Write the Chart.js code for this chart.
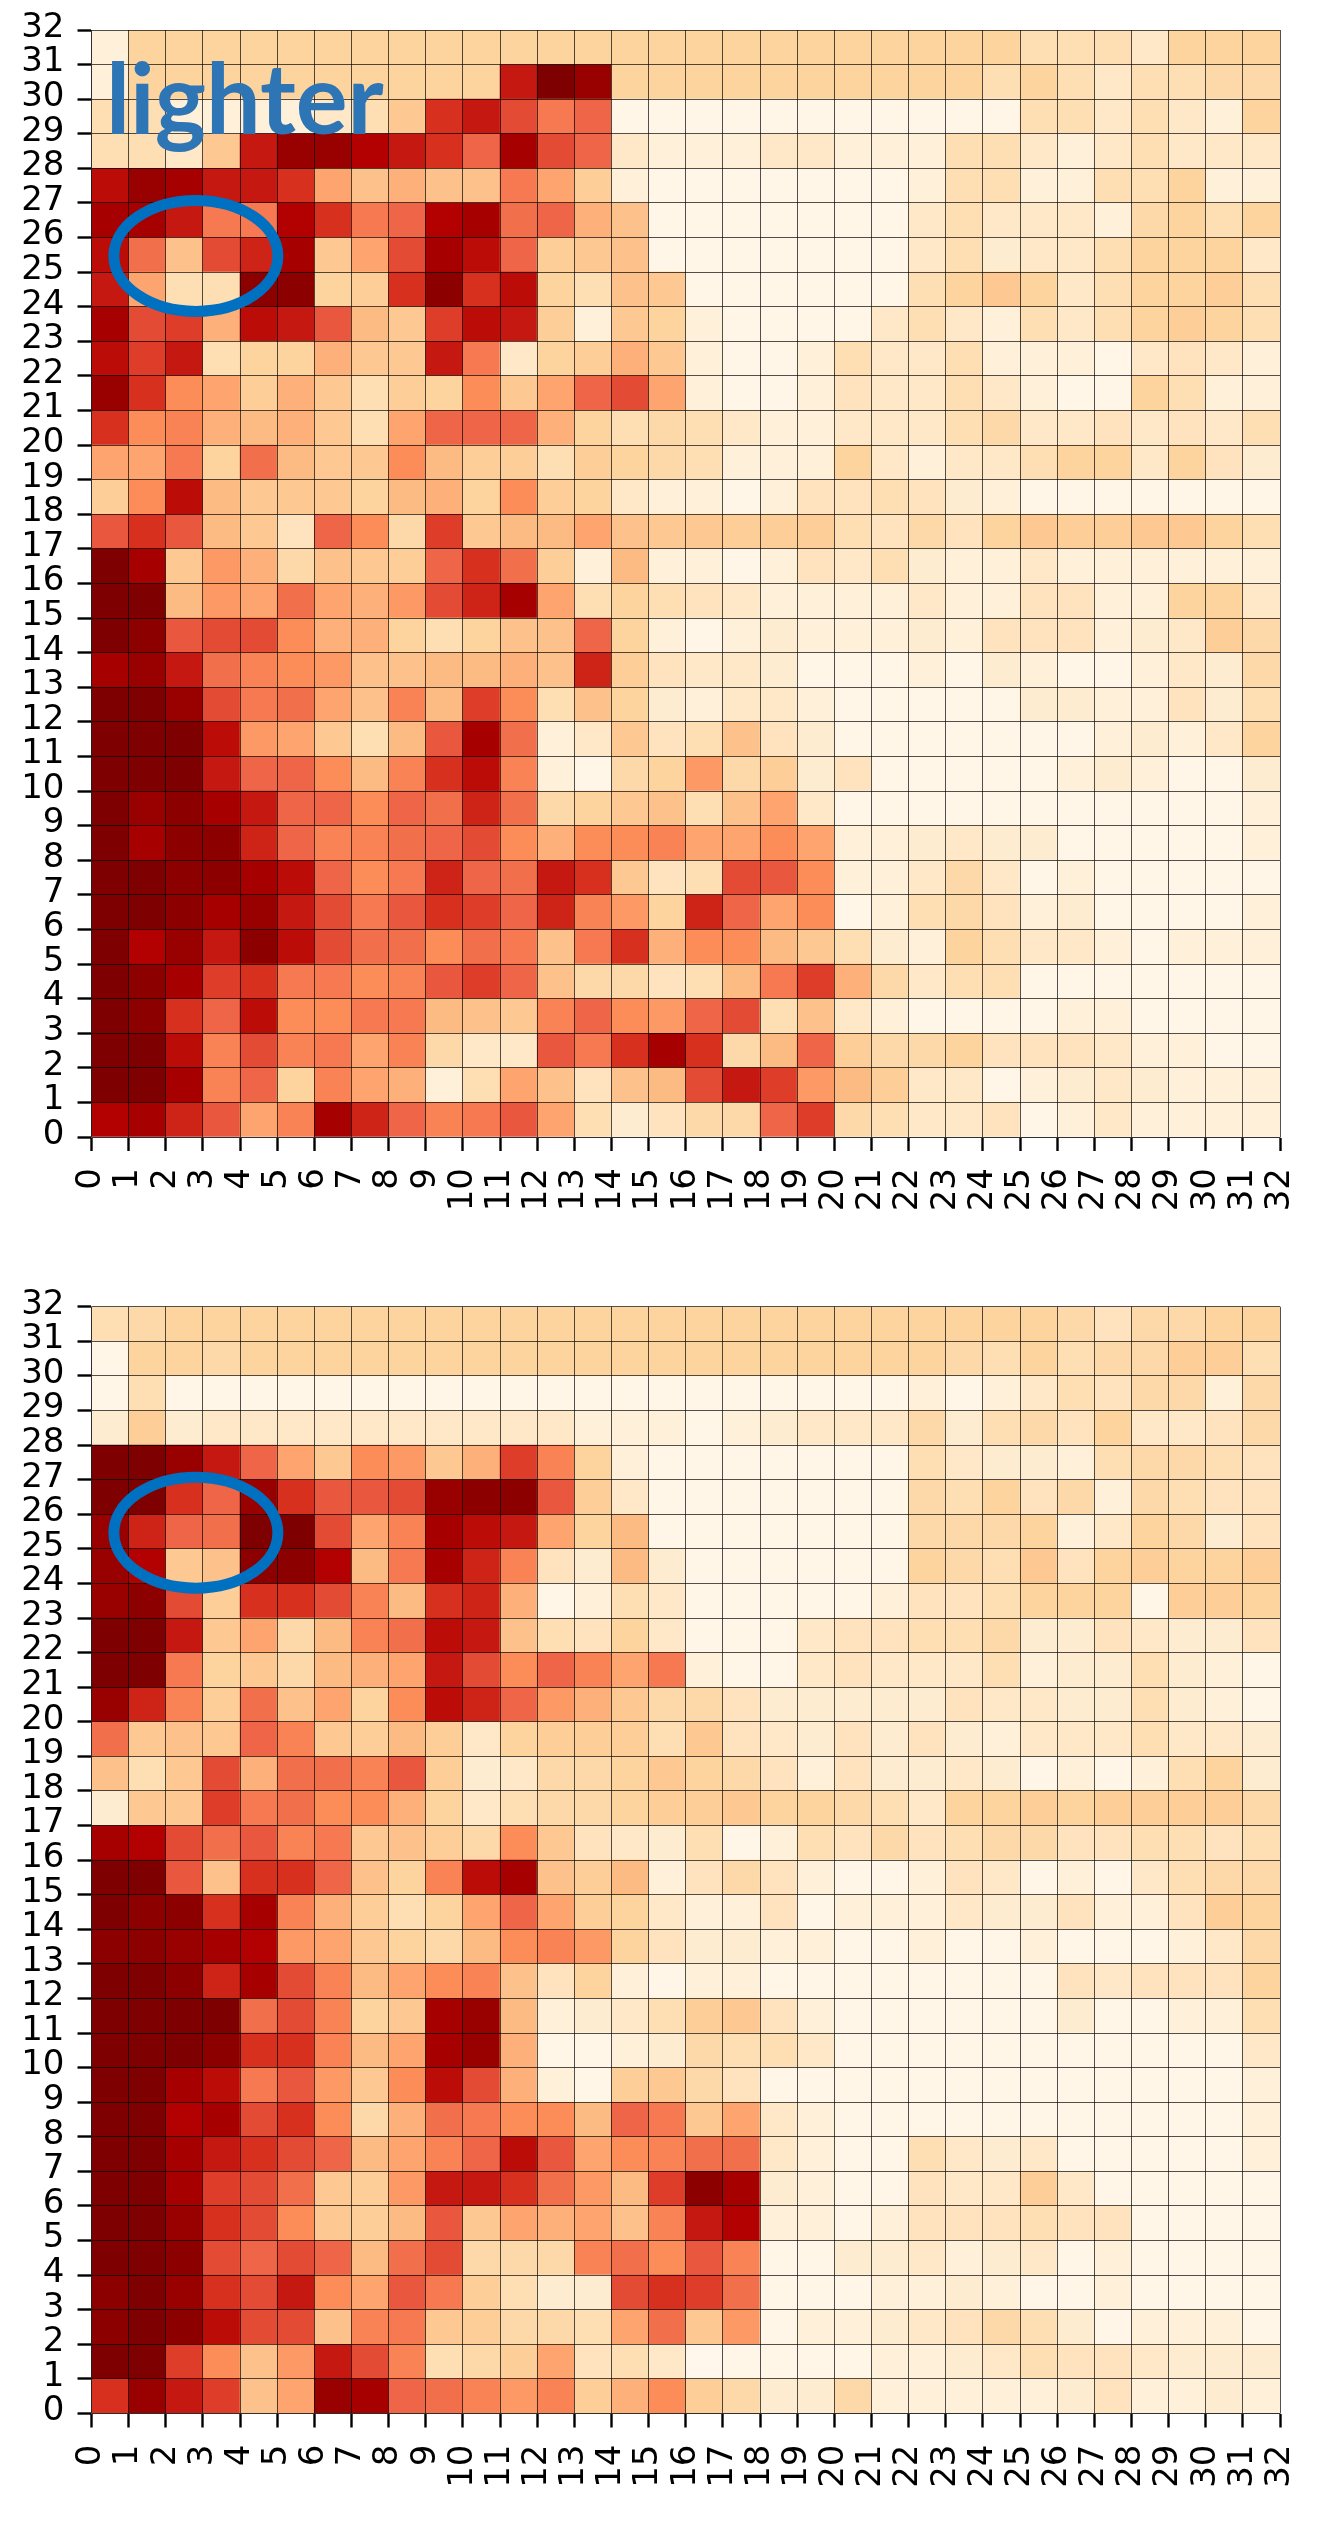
<!DOCTYPE html>
<html>
<head>
<meta charset="utf-8">
<title>heatmaps</title>
<script src="https://cdn.jsdelivr.net/npm/chart.js@4/dist/chart.umd.js"></script>
<style>
  html, body { margin: 0; padding: 0; background: #fff; }
  canvas { position: absolute; left: 0; }
  #upper-chart { top: 0; }
  #lower-chart { top: 1270px; }
</style>
</head>
<body>
<canvas id="upper-chart" width="1318" height="1260"></canvas>
<canvas id="lower-chart" width="1318" height="1252"></canvas>
<script>
// tick labels, 0..32 on both axes
const TICKS = Array.from({ length: 33 }, (_, i) => i);

// OrRd stops, cell values below are 0..16 along this ramp
const ORRD = ["#fff7ec", "#fee8c8", "#fdd49e", "#fdbb84", "#fc8d59", "#ef6548", "#d7301f", "#b30000", "#7f0000"];

// rows listed top down (y=31 first), one value per x=0..31
const upperGrid = [
  [1,4,4,4,4,4,4,4,4,4,4,4,4,4,4,4, 4,4,4,4,4,4,4,4,4,3,3,3,2,4,4,4],
  [1,4,4,4,4,4,4,4,4,4,4,13,16,15,4,4, 4,4,4,4,4,4,4,4,3,4,3,2,3,3,3.5,3.5],
  [3,3,1,1,1,1,2,3,5,12,13,11,9,10,0.5,0.5, 0.5,0.5,0.5,0.5,0.5,0.5,0.5,0.5,0.5,3,3,2,3,2,1,4],
  [3,3,2,5,13,15,15,14,13,12,10,14.5,11,10,2,1, 1,1,2,2,1,1,1,3,3,2,1,2,3,2,2,2],
  [13.5,15,14.5,13,13,12,7,5.5,6.5,5.5,5.5,9,7,4.5,1,0.5, 0.5,0.5,0.5,0.5,0.5,0.5,1,3,3,1,1,3,3,4,1,1],
  [14.5,14.5,13,9,9,14,12,9,10,14,14.5,9.5,10,6.5,5.5,0.5, 0.5,0.5,0.5,0.5,0.5,0.5,2,3,2,2,2,1,3.5,4,3,4],
  [13.5,9.5,5.5,11,12.5,14.5,5,7,11,14.5,13.5,10,4.5,5,5.5,0.5, 0.5,0.5,0.5,0.5,0.5,0.5,2,3,1.5,2,2,3,4,4,4,2],
  [13,7,3,3,15.5,15.5,4,4.5,12,15.5,12,13.5,4,3,5.5,5, 0.5,0.5,0.5,0.5,0.5,0.5,3,4,5,4,2,3,4,4,4.5,3],
  [14.5,11,11.5,6.5,13.5,13,10.5,6,5,11.5,13.5,13,4.5,1,5,4, 1,0.5,0.5,0.5,0.5,2,3,2,1,3,2,3,4,4.5,4,3],
  [13.5,11.5,13,3,4,4,6.5,5,5,13,9,2,4,4.5,6.5,5, 1,0.5,0.5,1,3,2,2,3,1,1,1,0.5,2,2.5,2,1],
  [15,12,8,7,4.5,6.5,5,3,4.5,4,8,5,7,10,11,7, 1,0.5,0.5,1,2.5,2,2,3,2,1,0.5,0.5,4,3,1,1],
  [12,8,8.5,6.5,6,6.5,5,3,7,10,10,10,6.5,4,3,3.5, 3,2,1,1,2,2,2,3,3.5,2,2,2.5,2,2.5,2,3],
  [7,7,9,4,9.5,6,5,5,8,6,4.5,4.5,3,4.5,4,3.5, 3,1,1,1,4,2,1,2,2,3,4,4,2,4,2.5,1.5],
  [4.5,8,13.5,6,5,5,5,4,6,6.5,4,8,4.5,4,2,1, 1,0.5,1,2.5,2.5,3,2.5,1.5,1,0.5,0.5,0.5,0.5,0.5,0.5,0.5],
  [10.5,12,10.5,6,5,2.5,10,8,3.5,11.5,5,6,6,7,5.5,5, 5,4.5,4.5,4.5,3,2.5,3.5,2.5,4,5,4.5,4.5,5,5,4,3],
  [16,14.5,5,7.5,6.5,3.5,5.5,5,4.5,10,12,9.5,4.5,1,6,1, 1,0.5,1,2.5,2,3,1.5,1,1,2,1,1,1,1,1,1],
  [16,16,6,7.5,7,9.5,7,6.5,7.5,11,12.5,14.5,7,3,4,3, 2.5,2,1,1,1,1,2,1,1,2.5,2.5,1,1,4,4,2],
  [16,15.5,10.5,11,11,8,6.5,6.5,4,3,4,5.5,5.5,10,4,1, 0.5,1,1.5,1,1,1,1.5,1,2.5,2.5,2.5,1,1.5,2,4.5,3.5],
  [14.5,15,13,9.5,8.5,8,7.5,5.5,5.5,6,6,6.5,5.5,12.5,4.5,2.5, 2,2,1.5,0.5,0.5,0.5,1,0.5,1.5,1,0.5,0.5,1,2,1.5,3.5],
  [16,16,15,11,9,9.5,7,5.5,8.5,6,11.5,8,3,5.5,4,1.5, 1,2,2,1,0.5,0.5,0.5,0.5,0.5,1.5,1.5,1,1,2.5,1.5,3],
  [16,16,16,13.5,7.5,7,5,3,6,10.5,14.5,9.5,1,2,5,2.5, 3,5.5,2.5,1.5,0.5,0.5,0.5,0.5,0.5,0.5,0.5,1,1.5,1,2,4],
  [16,16,16,13,10,10,8,6,8.5,12,13.5,8.5,1,0.5,3.5,4, 7.5,3.5,4.5,1.5,2.5,0.5,0.5,0.5,0.5,0.5,1,1.5,1,0.5,0.5,1.5],
  [16,15,15.5,14.5,13,10,10,8,10,9.5,12.5,9.5,3.5,4,5,5.5, 3,5.5,7,2,0.5,0.5,0.5,0.5,0.5,0.5,0.5,0.5,0.5,0.5,0.5,1],
  [16,14.5,15.5,15.5,12.5,10,8.5,8.5,9.5,10,11,8,6.5,8,8,8.5, 7,7,8,7,1,1,1.5,2,1.5,1.5,0.5,0.5,0.5,0.5,0.5,1],
  [16,16,15.5,15.5,14.5,13.5,10,8,9,12.5,10,9.5,13,12,5,2.5, 3,11,10.5,8,1,1,2,3.5,2,0.5,1,0.5,0.5,0.5,0.5,0.5],
  [16,16,15.5,14.5,15,13,11,9,10.5,12,11.5,10,12.5,8.5,7.5,4, 12.5,10,7,8,0.5,1,3,3.5,2.5,1,1.5,0.5,0.5,0.5,0.5,1],
  [16,14,15,13,15.5,13.5,11,9.5,9.5,8,9.5,9,5.5,9,12,6.5, 8,8,6,5,3,1.5,1,4,3,2,2,1,0.5,1,1,1],
  [16,15.5,14.5,11.5,12,9,9,8,8.5,10.5,11.5,10,5.5,3.5,3.5,2.5, 3,6,9,11.5,6.5,3.5,2,3,3,0.5,0.5,0.5,0.5,0.5,0.5,0.5],
  [16,15.5,12,10,13.5,8,8,9,9,6,5.5,5,8.5,10,8,7.5, 10,11,3,5.5,2,1,0.5,0.5,0.5,0.5,1,1,0.5,0.5,0.5,0.5],
  [16,16,13.5,8.5,11,8.5,9,7,8.5,3.5,2,2,10.5,9,12,14.5, 12,3.5,6,10,4.5,3.5,3.5,4,2.5,2.5,2.5,2,1,1,0.5,0.5],
  [16,16,14.5,8.5,10,4,8.5,7,6.5,1,3,7,5.5,2.5,5.5,6, 11,13,11.5,7.5,6,4.5,2,2,0.5,1,1.5,2,1.5,1,1,1],
  [14,14.5,12.5,10.5,7,8.5,14.5,12.5,10,8.5,9,10.5,7,3,1.5,2.5, 3.5,3.5,10,11.5,3.5,3,2,2,2.5,0.5,1,2,1,1,1,1]
];

const lowerGrid = [
  [3,3.5,4,4,4,4,4,4,4,4,4,4,4,4,4,4, 4,4,4,4,4,4,4,4,4,4,3.5,2.5,3.5,3.5,4,4],
  [0.5,4,4,3.5,4,4,4,4,4,4,4,4,4,4,4,4, 4,4,4,4,4,4,4,3.5,3,4,3,3.5,3.5,4.5,4.5,3],
  [0.5,3,0.5,0.5,0.5,0.5,0.5,0.5,0.5,0.5,0.5,0.5,0.5,0.5,0.5,0.5, 0.5,0.5,0.5,0.5,0.5,0.5,1,0.5,1,2,3,2.5,3.5,3.5,1,3.5],
  [1.5,4.5,1.5,2,2,2,2,2,2,2,2,2,2,1,1,1, 0.5,1,1.5,2,2,2,3.5,1.5,3,3.5,2.5,4,2,2,2.5,3.5],
  [16,16,15,13,10,7,5,8,7.5,5,6.5,11.5,8.5,4,1,0.5, 0.5,0.5,0.5,0.5,0.5,0.5,3,2,1.5,1.5,1,3,3.5,3.5,3,2.5],
  [16,16,12,10,15,12,10.5,10.5,11,15,15.5,15.5,10.5,4.5,2,0.5, 0.5,0.5,0.5,0.5,0.5,0.5,3.5,3,4,2.5,3.5,1,3.5,3,2.5,2.5],
  [15,12.5,10,9.5,16,16,11,7,8.5,14.5,13.5,13,7,4,6,0.5, 0.5,0.5,0.5,0.5,0.5,0.5,3.5,3.5,3.5,4,1,2,4,3.5,1.5,2.5],
  [15,14,5,5.5,15.5,15.5,14,6,9,14.5,12.5,8.5,2.5,1.5,6,1.5, 0.5,0.5,0.5,0.5,0.5,0.5,4,3.5,3,5,2.5,4,4.5,4,4,4.5],
  [15,15.5,11,4.5,12,12,11,8.5,6,12,12.5,6.5,0.5,1,3,2, 0.5,0.5,0.5,0.5,0.5,1,2.5,2.5,3,4,4,4,0.5,4.5,4.5,4],
  [16,16,13,5,7,3.5,6,8.5,9.5,13.5,13,5.5,3,2.5,4,2, 0.5,0.5,0.5,2,2.5,2.5,3,3,3.5,1.5,1.5,2.5,2,1.5,1.5,2.5],
  [16,16,9,4,5,3.5,6,6.5,7,13,11,8,10,8.5,7,9, 1,0.5,0.5,2,2.5,2,2,2,3,1,1.5,1.5,3,1.5,1,0.5],
  [15,12.5,8.5,4.5,9.5,5.5,7,4,8,13.5,12.5,10,7.5,6.5,5,3.5, 3.5,2.5,1.5,1.5,1.5,1.5,1.5,2.5,2,2,1.5,1.5,3,1.5,1,0.5],
  [9.5,5,5.5,5,10,8.5,5,4.5,6,4.5,2,4,4.5,4.5,4.5,3, 5,2.5,2,1.5,2.5,1.5,2.5,1.5,1,2,2,2,3,2,2,1.5],
  [5.5,3,5,11,6.5,9.5,9.5,8.5,10.5,4.5,1.5,2,3.5,3.5,4,5, 4,3.5,2.5,1,2.5,1.5,1.5,2,1.5,0.5,1,0.5,1,3,4,1.5],
  [1.5,5,5,11.5,9,9.5,8,8,6.5,4,2,3,3.5,3.5,4,4.5, 4.5,5,4,4,3.5,3,2,4,4,4.5,4,4.5,4.5,4.5,4.5,3.5],
  [14.5,14,11,9.5,10.5,8.5,9,5,5.5,4.5,3.5,8,5,2.5,2,1.5, 3,0.5,1,3,2.5,3.5,2.5,3,3.5,3.5,2.5,2.5,3,3,2.5,3],
  [16,16,10.5,5.5,12,12,10,5.5,4,8.5,13.5,14.5,5.5,4.5,6,1, 2.5,3.5,2.5,1,0.5,0.5,1,2.5,2,0.5,1,0.5,2,3,3.5,3.5],
  [16,15.5,15.5,12,14.5,8.5,6.5,4.5,3,4,7,10,7,4.5,4,2, 1,1,2.5,0.5,1,1,1,2,1.5,1.5,2.5,1,1,2.5,4.5,4],
  [15.5,15.5,15,14.5,14,7.5,7,5,4,3.5,6,8,8.5,7.5,4,2.5, 1.5,1.5,1,1,0.5,0.5,1,0.5,0.5,1,0.5,0.5,0.5,1,2,3.5],
  [16,16,15.5,12.5,14.5,11,8.5,6,7,8,8.5,5.5,2.5,4,1,0.5, 1,1,0.5,0.5,0.5,0.5,0.5,0.5,0.5,0.5,2.5,2,2.5,2.5,2.5,4],
  [16,16,16,16,9.5,11,8.5,4,5,14.5,15,6,1,1.5,2,3, 4.5,5,2.5,1,0.5,0.5,0.5,0.5,0.5,0.5,1.5,0.5,0.5,1,1,3],
  [16,16,16,15.5,12,12,8.5,6,7,14.5,15,6.5,0.5,0.5,1,1.5, 3.5,3,3,2,0.5,0.5,0.5,0.5,0.5,0.5,0.5,0.5,0.5,0.5,0.5,2],
  [16,16,14.5,13.5,9,10.5,7.5,5,8,13.5,11,6.5,1,0.5,4.5,5, 3.5,2.5,0.5,0.5,0.5,0.5,0.5,0.5,0.5,0.5,0.5,0.5,0.5,0.5,0.5,1],
  [16,16,14,14.5,11,12,8,3.5,6.5,9.5,9,8,8,6,10,9, 5,7,2,1,0.5,0.5,0.5,0.5,0.5,0.5,0.5,0.5,0.5,0.5,0.5,1],
  [16,16,14.5,13,12,11,10,6,7,8.5,10,13.5,10.5,7,8,8.5, 9.5,9.5,2,1,0.5,0.5,3,2,1.5,2,0.5,0.5,0.5,0.5,0.5,1],
  [16,16,14.5,11.5,11,9.5,5,4.5,7.5,13,13,12,9.5,7.5,6,11.5, 15.5,14.5,1.5,1,0.5,0.5,2.5,2,2,4.5,2,0.5,0.5,0.5,0.5,0.5],
  [16,16,15,12,11,8,5,4.5,6,10.5,5,7,6.5,7,5.5,8.5, 13,14,1,1,0.5,1,2.5,2.5,2.5,3,2.5,2.5,0.5,0.5,0.5,0.5],
  [16,16,15.5,11,10,11,10,6,9.5,11,3.5,3.5,3.5,8.5,9.5,8, 10.5,8.5,0.5,0.5,1.5,1.5,2,1,1.5,2,0.5,1,0.5,0.5,0.5,0.5],
  [15.5,16,15,12,11,13,8,7,10.5,9,4.5,3,1.5,1.5,11,12, 11.5,9.5,0.5,0.5,0.5,1,1,1.5,1,0.5,0.5,1,0.5,0.5,0.5,0.5],
  [15.5,16,15.5,13.5,11,11,5.5,8.5,9,5,4.5,3.5,3.5,3,7,9.5, 5,7.5,0.5,1,1,1.5,2,2.5,3.5,3,1.5,0.5,1,1,1,0.5],
  [16,16,11.5,8,5.5,7.5,13,11,8.5,3,3.5,4.5,7,2.5,3,2, 0,0.5,0.5,0.5,0.5,1,1,1.5,2,3,2.5,2.5,2,1.5,1.5,1.5],
  [12,15,13,11.5,5.5,7,15,14.5,10,9.5,8.5,7.5,8.5,4.5,6.5,8, 4.5,3.5,1.5,1.5,3.5,1,1,1,1,1,1.5,2.5,1,1,1.5,1]
];

// blue ellipse centre in axis units, radii in pixels
const ELLIPSE_X = 2.81;
const ELLIPSE_Y = 25.47;

function hexToRgb(hex) {
  return [1, 3, 5].map((i) => parseInt(hex.slice(i, i + 2), 16));
}

function cellColor(level) {
  // the palest cells sit closer to the start of the ramp than 0.5 reads
  const value = level < 1 ? level * 0.4 : level;
  const pos = Math.min(value / 2, ORRD.length - 1.001);
  const i = Math.floor(pos);
  const a = hexToRgb(ORRD[i]);
  const b = hexToRgb(ORRD[i + 1]);
  const t = pos - i;
  const rgb = a.map((c, k) => Math.round(c + (b[k] - c) * t));
  return `rgb(${rgb.join(",")})`;
}

function gridPoints(grid) {
  const points = [];
  grid.forEach((row, r) => {
    const y = 31 - r;
    row.forEach((level, x) => {
      points.push({ x: x + 0.5, y: [y, y + 1], level: level });
    });
  });
  return points;
}

const annotations = {
  id: "annotations",
  afterDraw(chart, args, opts) {
    const { ctx, scales } = chart;
    ctx.save();
    ctx.strokeStyle = "#0070c0";
    ctx.lineWidth = 11;
    ctx.beginPath();
    ctx.ellipse(scales.x.getPixelForValue(ELLIPSE_X), scales.y.getPixelForValue(ELLIPSE_Y), 82, 55.5, 0, 0, Math.PI * 2);
    ctx.stroke();
    if (opts.label) {
      ctx.fillStyle = "#2e75b6";
      ctx.font = "bold 97px Lato";
      ctx.textBaseline = "alphabetic";
      ctx.fillText(opts.label, 106, 134);
    }
    ctx.restore();
  },
};

function tickAxis(extra) {
  return Object.assign(
    {
      type: "linear",
      min: 0,
      max: 32,
      offset: false,
      grid: {
        offset: false,
        color: "rgba(0,0,0,0.68)",
        lineWidth: 1,
        z: 1,
        tickColor: "#000",
        tickWidth: 2.4,
        tickLength: 14,
      },
      border: { color: "rgba(0,0,0,0.4)", width: 1, z: 1 },
    },
    extra
  );
}

function tickFont() {
  return { family: "'DejaVu Sans'", size: 34 };
}

function createChart(ctx, grid, top, xHeight, label) {
  const points = gridPoints(grid);
  return new Chart(ctx, {
    type: "bar",
    data: {
      datasets: [
        {
          data: points,
          backgroundColor: points.map((p) => cellColor(p.level)),
          borderWidth: 0,
          barPercentage: 1,
          categoryPercentage: 1,
        },
      ],
    },
    plugins: [annotations],
    options: {
      responsive: false,
      animation: false,
      layout: { autoPadding: false, padding: { left: 0, right: 38, top: top, bottom: 0 } },
      plugins: {
        legend: { display: false },
        tooltip: { enabled: false },
        annotations: { label: label },
      },
      scales: {
        x: tickAxis({
          position: "bottom",
          afterFit: (scale) => {
            scale.height = xHeight;
            // rotated labels would otherwise shrink the plot on the right
            scale.paddingLeft = 0;
            scale.paddingRight = 0;
          },
          afterBuildTicks: (scale) => {
            scale.ticks = TICKS.map((v) => ({ value: v }));
          },
          ticks: {
            autoSkip: false,
            color: "#000",
            font: tickFont(),
            minRotation: 90,
            maxRotation: 90,
            padding: 17,
          },
        }),
        y: tickAxis({
          position: "left",
          afterFit: (scale) => {
            scale.width = 91.5;
            scale.paddingTop = 0;
            scale.paddingBottom = 0;
          },
          afterBuildTicks: (scale) => {
            scale.ticks = TICKS.map((v) => ({ value: v }));
          },
          ticks: {
            autoSkip: false,
            color: "#000",
            font: tickFont(),
            padding: 13,
            labelOffset: -2,
          },
        }),
      },
    },
  });
}

function mount() {
  createChart(document.getElementById("upper-chart").getContext("2d"), upperGrid, 30, 123, "lighter");
  createChart(document.getElementById("lower-chart").getContext("2d"), lowerGrid, 36.8, 108.5, null);
}

document.addEventListener("DOMContentLoaded", () => mount());
</script>
</body>
</html>
